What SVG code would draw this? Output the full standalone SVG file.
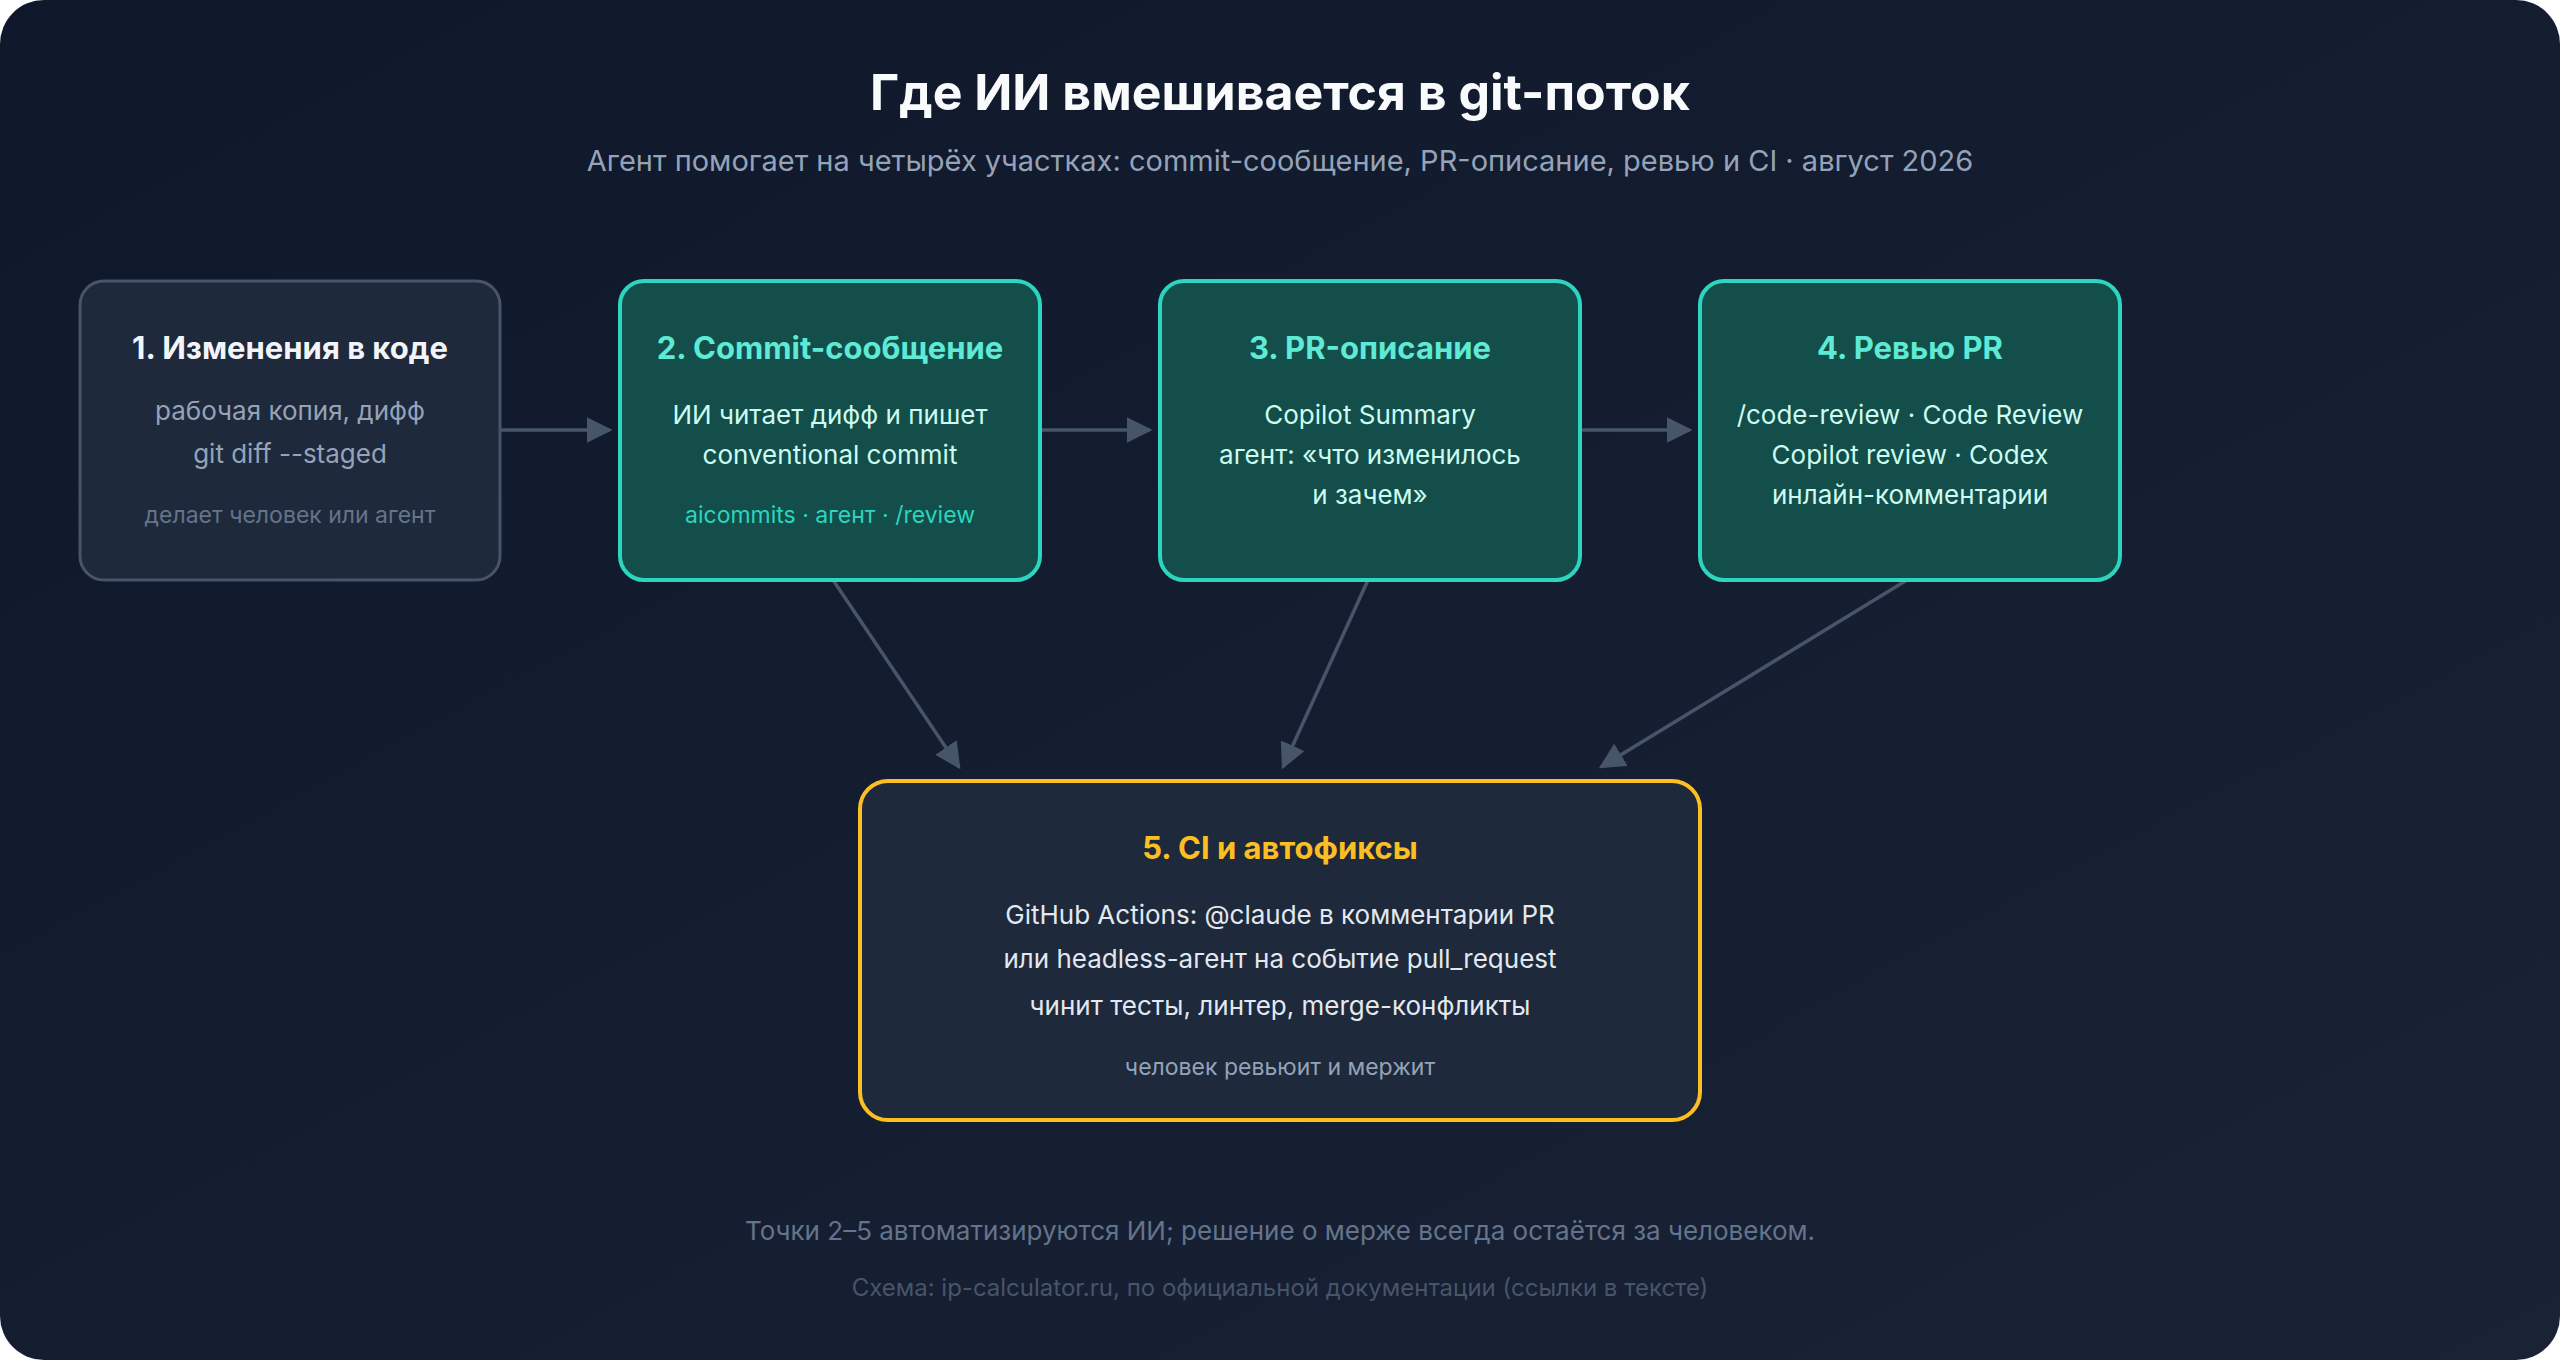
<svg xmlns="http://www.w3.org/2000/svg" width="2560" height="1360" viewBox="0 0 2560 1360">
<defs>
<linearGradient id="bg" x1="0" y1="0" x2="1" y2="1"><stop offset="0" stop-color="#0f172a"/><stop offset="1" stop-color="#1a2236"/></linearGradient>
<marker id="a" viewBox="0 0 10 10" refX="9" refY="5" markerWidth="26" markerHeight="26" markerUnits="userSpaceOnUse" orient="auto"><path d="M0,0 L10,5 L0,10 z" fill="#475569"/></marker>
</defs>
<style>
text{font-family:Inter,"Noto Sans",sans-serif;text-anchor:middle}
.t{font-size:31px;font-weight:700}
.b{font-size:26px}
.s{font-size:23px}
.teal rect{fill:#134e4a;stroke:#2dd4bf;stroke-width:4}
.teal .t{fill:#5eead4}
.teal .b{fill:#ccfbf1}
.teal .s{fill:#2dd4bf}
.con line{stroke:#475569;stroke-width:3.5;marker-end:url(#a)}
</style>
<rect width="2560" height="1360" fill="#ffffff"/>
<rect width="2560" height="1360" rx="44" fill="url(#bg)"/>
<text x="1280" y="110" font-size="50" font-weight="700" fill="#f8fafc">Где ИИ вмешивается в git-поток</text>
<text x="1280" y="171" font-size="29" fill="#94a3b8">Агент помогает на четырёх участках: commit-сообщение, PR-описание, ревью и CI · август 2026</text>
<g class="con">
<line x1="500" y1="430" x2="610" y2="430"/>
<line x1="1040" y1="430" x2="1150" y2="430"/>
<line x1="1581" y1="430" x2="1690" y2="430"/>
<line x1="833" y1="580" x2="959" y2="767"/>
<line x1="1368" y1="580" x2="1283" y2="767"/>
<line x1="1907" y1="580" x2="1601" y2="767"/>
</g>
<g id="n1">
<rect x="80" y="281" width="420" height="299" rx="24" fill="#1e293b" stroke="#475569" stroke-width="3"/>
<text class="t" x="290" y="359" fill="#f1f5f9">1. Изменения в коде</text>
<text class="b" x="290" y="420" fill="#94a3b8">рабочая копия, дифф</text>
<text class="b" x="290" y="463" fill="#94a3b8">git diff --staged</text>
<text class="s" x="290" y="523" fill="#64748b">делает человек или агент</text>
</g>
<g id="n2" class="teal">
<rect x="620" y="281" width="420" height="299" rx="24"/>
<text class="t" x="830" y="359">2. Commit-сообщение</text>
<text class="b" x="830" y="424">ИИ читает дифф и пишет</text>
<text class="b" x="830" y="464">conventional commit</text>
<text class="s" x="830" y="523">aicommits · агент · /review</text>
</g>
<g id="n3" class="teal">
<rect x="1160" y="281" width="420" height="299" rx="24"/>
<text class="t" x="1370" y="359">3. PR-описание</text>
<text class="b" x="1370" y="424">Copilot Summary</text>
<text class="b" x="1370" y="464">агент: «что изменилось</text>
<text class="b" x="1370" y="504">и зачем»</text>
</g>
<g id="n4" class="teal">
<rect x="1700" y="281" width="420" height="299" rx="24"/>
<text class="t" x="1910" y="359">4. Ревью PR</text>
<text class="b" x="1910" y="424">/code-review · Code Review</text>
<text class="b" x="1910" y="464">Copilot review · Codex</text>
<text class="b" x="1910" y="504">инлайн-комментарии</text>
</g>
<g id="n5">
<rect x="860" y="781" width="840" height="339" rx="28" fill="#1e293b" stroke="#fbbf24" stroke-width="4"/>
<text class="t" x="1280" y="859" fill="#fbbf24">5. CI и автофиксы</text>
<text class="b" x="1280" y="924" fill="#e2e8f0">GitHub Actions: @claude в комментарии PR</text>
<text class="b" x="1280" y="968" fill="#e2e8f0">или headless-агент на событие pull_request</text>
<text class="b" x="1280" y="1015" fill="#e2e8f0">чинит тесты, линтер, merge-конфликты</text>
<text class="s" x="1280" y="1075" fill="#94a3b8">человек ревьюит и мержит</text>
</g>
<text x="1280" y="1240" font-size="26" fill="#64748b">Точки 2–5 автоматизируются ИИ; решение о мерже всегда остаётся за человеком.</text>
<text x="1280" y="1296" font-size="24" fill="#475569">Схема: ip-calculator.ru, по официальной документации (ссылки в тексте)</text>
</svg>
